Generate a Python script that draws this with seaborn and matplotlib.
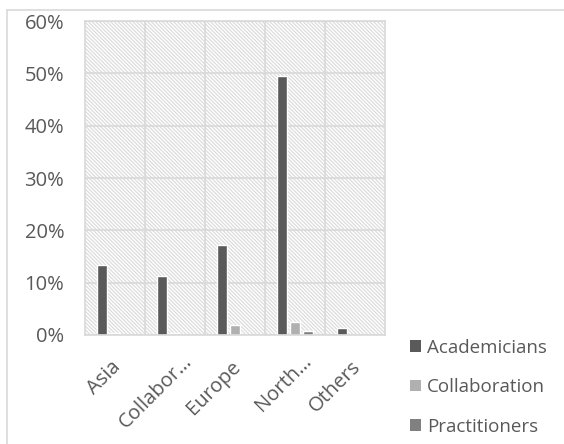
import matplotlib
matplotlib.use("Agg")
import matplotlib.pyplot as plt
from matplotlib.patches import Rectangle, Patch
from matplotlib.ticker import FixedLocator, PercentFormatter
from matplotlib.lines import Line2D
from matplotlib.transforms import ScaledTranslation, blended_transform_factory
import seaborn as sns
import pandas as pd

regions = ["Asia", "Collabor…", "Europe", "North…", "Others"]
series = ["Academicians", "Collaboration", "Practitioners"]
academicians = [13.4, 11.3, 17.2, 49.5, 1.4]
collaboration = [0.3, 0.3, 1.9, 2.4, 0.0]
practitioners = [0.0, 0.0, 0.0, 0.8, 0.0]
colors = ["#5a5a5a", "#b0b0b0", "#808080"]
y_ticks = [0, 10, 20, 30, 40, 50, 60]

df = pd.DataFrame({
    "region": regions * 3,
    "series": [s for s in series for _ in regions],
    "share": academicians + collaboration + practitioners,
})

sns.set_theme(style="white")
plt.rcParams["font.family"] = ["Open Sans", "DejaVu Sans"]
plt.rcParams["hatch.linewidth"] = 0.9

fig = plt.figure(figsize=(5.64, 4.44), dpi=100)
ax = fig.add_axes([85 / 564, 1 - 335 / 444, 300 / 564, 314 / 444])

# hatched plot-area background
ax.add_patch(Rectangle((0, 0), 1, 1, transform=ax.transAxes, facecolor="white",
                       edgecolor="#dcdcdc", lw=0, hatch="\\" * 9, zorder=0))

sns.barplot(data=df, x="region", y="share", hue="series", order=regions,
            hue_order=series, palette=colors, width=0.65, gap=0.3,
            saturation=1, ax=ax, legend=False, zorder=3)

ax.set_xlim(-0.5, 4.5)
ax.set_ylim(0, 60)
ax.set_yticks(y_ticks)
ax.yaxis.set_major_formatter(PercentFormatter(decimals=0))
ax.xaxis.set_minor_locator(FixedLocator([0.5, 1.5, 2.5, 3.5]))
ax.grid(axis="y", which="major", color="#d9d9d9", lw=1.2, zorder=1)
ax.grid(axis="x", which="minor", color="#d9d9d9", lw=1.2, zorder=1)
ax.set_axisbelow(False)
for sp in ax.spines.values():
    sp.set_color("#d9d9d9")
    sp.set_linewidth(1.2)
    sp.set_zorder(4)

ax.set_xlabel("")
ax.set_ylabel("")
ax.tick_params(axis="both", which="both", length=0, colors="#595959")
ax.tick_params(axis="y", pad=15, labelsize=14.5)

# rotated category labels; shortened names sit a little further up and right
ticks = ax.get_xticks()
names = [t.get_text() for t in ax.get_xticklabels()]
ax.set_xticklabels([])
base = blended_transform_factory(ax.transData, ax.transAxes)
for x, name in zip(ticks, names):
    dx, dy = (14, -23) if name.endswith("…") else (3, -29)
    tr = base + ScaledTranslation(dx / 100, dy / 100, fig.dpi_scale_trans)
    ax.text(x, 0, name, transform=tr, rotation=45, ha="right", va="center",
            rotation_mode="anchor", fontsize=14.5, color="#595959")

handles = [Patch(facecolor=c, edgecolor="none") for c in colors]
leg = fig.legend(handles, series, loc="upper left", bbox_to_anchor=(403 / 564, 1 - 331 / 444),
                 frameon=False, fontsize=13.5, labelcolor="#595959", handlelength=0.55,
                 handleheight=0.55, handletextpad=0.35, labelspacing=1.15, borderaxespad=0)

# outer chart frame
fig.add_artist(Line2D([7 / 564, 7 / 564], [0, 1 - 10 / 444], transform=fig.transFigure,
                      color="#d9d9d9", lw=1.2))
fig.add_artist(Line2D([7 / 564, 1], [1 - 10 / 444, 1 - 10 / 444], transform=fig.transFigure,
                      color="#d9d9d9", lw=1.2))

fig.savefig("out.png", dpi=100)
